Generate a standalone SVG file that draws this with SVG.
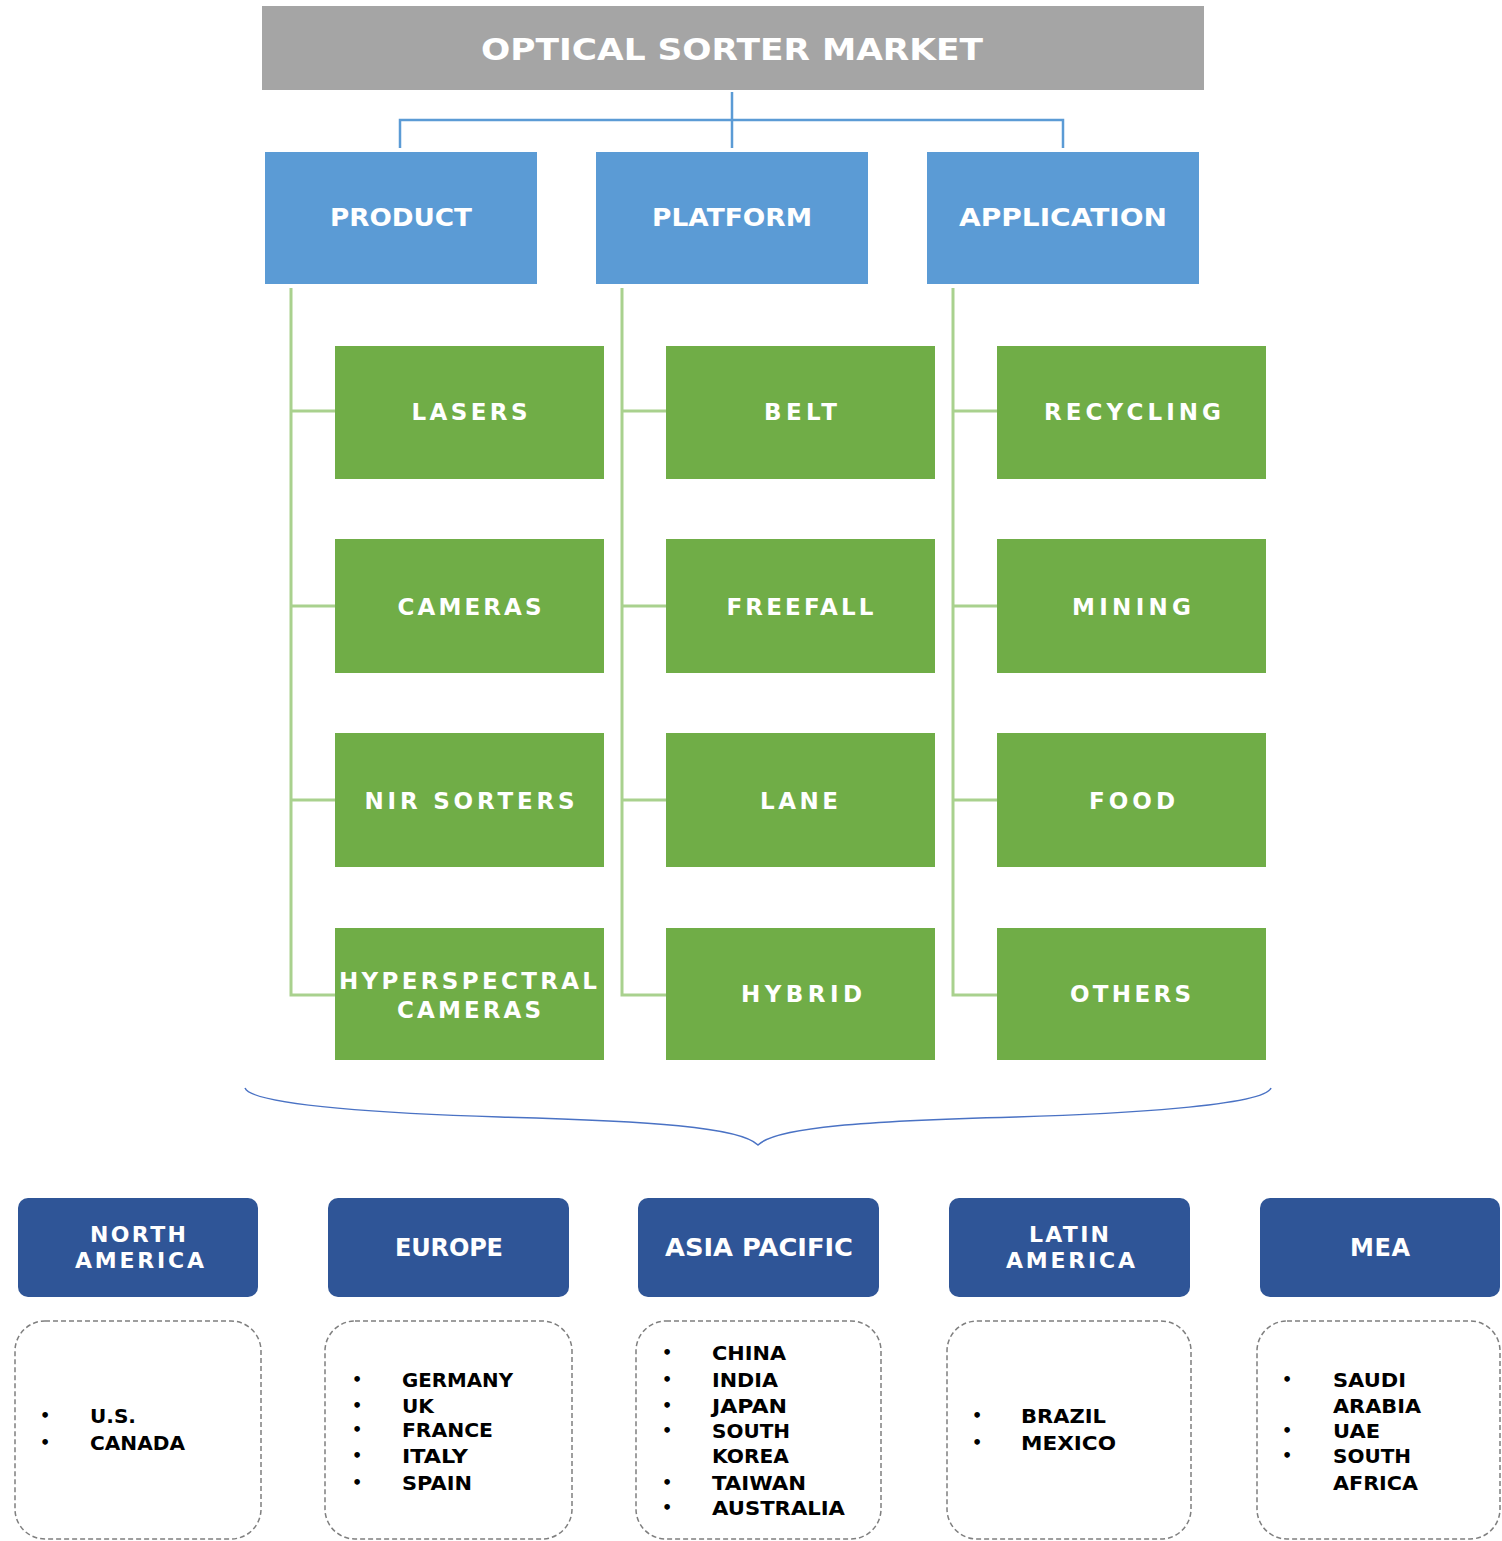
<svg xmlns="http://www.w3.org/2000/svg" width="1502" height="1541" viewBox="0 0 1502 1541">
<style>
  text { font-family: "DejaVu Sans", "Liberation Sans", sans-serif; font-weight: bold; }
  .title { fill: #ffffff; font-size: 31px; text-anchor: middle; }
  .seg { fill: #5b9bd5; }
  .segt { fill: #ffffff; font-size: 25px; text-anchor: middle; }
  .sub { fill: #70ad47; }
  .subt { fill: #ffffff; font-size: 23px; text-anchor: middle; }
  .reg { fill: #2f5597; }
  .regt { fill: #ffffff; font-size: 24px; text-anchor: middle; }
  .regt2 { fill: #ffffff; font-size: 22px; text-anchor: middle; }
  .list { fill: none; stroke: #7f7f7f; stroke-width: 1.5; stroke-dasharray: 5 3; }
  .lt { fill: #000000; font-size: 20px; }
  .bul { fill: #000000; font-size: 16px; text-anchor: middle; }
  .blue { fill: none; stroke: #5b9bd5; stroke-width: 2.5; }
  .green { fill: none; stroke: #a9d18e; stroke-width: 3; }
  .brace { fill: none; stroke: #4a72c4; stroke-width: 1.5; }
</style>

<g id="connectors">
  <path class="blue" d="M732,92 V148 M400,148 V120 H1063 V148"/>
  <path class="green" d="M291,288 V995 H335 M291,411 H335 M291,606 H335 M291,800 H335"/>
  <path class="green" d="M622,288 V995 H666 M622,411 H666 M622,606 H666 M622,800 H666"/>
  <path class="green" d="M953,288 V995 H997 M953,411 H997 M953,606 H997 M953,800 H997"/>
  <path class="brace" d="M245,1088 C252,1106 400,1114 500,1117 C650,1121 740,1127 758,1145 C776,1127 866,1121 1016,1117 C1116,1114 1264,1106 1271,1088"/>
</g>

<g id="title">
  <rect x="262" y="6" width="942" height="84" fill="#a5a5a5"/>
  <text class="title" x="732" y="60" textLength="502" lengthAdjust="spacingAndGlyphs">OPTICAL SORTER MARKET</text>
</g>

<g id="product">
  <rect class="seg" x="265" y="152" width="272" height="132"/>
  <text class="segt" x="401" y="226" textLength="142" lengthAdjust="spacingAndGlyphs">PRODUCT</text>
</g>
<g id="platform">
  <rect class="seg" x="596" y="152" width="272" height="132"/>
  <text class="segt" x="732" y="226" textLength="160" lengthAdjust="spacingAndGlyphs">PLATFORM</text>
</g>
<g id="application">
  <rect class="seg" x="927" y="152" width="272" height="132"/>
  <text class="segt" x="1063" y="226" textLength="208" lengthAdjust="spacingAndGlyphs">APPLICATION</text>
</g>

<g id="lasers">
  <rect class="sub" x="335" y="346" width="269" height="133"/>
  <text class="subt" x="469.5" y="419.5" textLength="116" lengthAdjust="spacing">LASERS</text>
</g>
<g id="cameras">
  <rect class="sub" x="335" y="539" width="269" height="134"/>
  <text class="subt" x="469.5" y="614.5" textLength="144" lengthAdjust="spacing">CAMERAS</text>
</g>
<g id="nir-sorters">
  <rect class="sub" x="335" y="733" width="269" height="134"/>
  <text class="subt" x="469.5" y="808.5" textLength="210" lengthAdjust="spacing">NIR SORTERS</text>
</g>
<g id="hyperspectral-cameras">
  <rect class="sub" x="335" y="928" width="269" height="132"/>
  <text class="subt" x="468" y="989" textLength="258" lengthAdjust="spacing">HYPERSPECTRAL</text>
  <text class="subt" x="469" y="1018" textLength="144" lengthAdjust="spacing">CAMERAS</text>
</g>

<g id="belt">
  <rect class="sub" x="666" y="346" width="269" height="133"/>
  <text class="subt" x="800.5" y="419.5" textLength="73" lengthAdjust="spacing">BELT</text>
</g>
<g id="freefall">
  <rect class="sub" x="666" y="539" width="269" height="134"/>
  <text class="subt" x="800" y="614.5" textLength="147" lengthAdjust="spacing">FREEFALL</text>
</g>
<g id="lane">
  <rect class="sub" x="666" y="733" width="269" height="134"/>
  <text class="subt" x="799" y="808.5" textLength="78" lengthAdjust="spacing">LANE</text>
</g>
<g id="hybrid">
  <rect class="sub" x="666" y="928" width="269" height="132"/>
  <text class="subt" x="801.5" y="1002" textLength="121" lengthAdjust="spacing">HYBRID</text>
</g>

<g id="recycling">
  <rect class="sub" x="997" y="346" width="269" height="133"/>
  <text class="subt" x="1132.5" y="419.5" textLength="177" lengthAdjust="spacing">RECYCLING</text>
</g>
<g id="mining">
  <rect class="sub" x="997" y="539" width="269" height="134"/>
  <text class="subt" x="1131.5" y="614.5" textLength="119" lengthAdjust="spacing">MINING</text>
</g>
<g id="food">
  <rect class="sub" x="997" y="733" width="269" height="134"/>
  <text class="subt" x="1132" y="808.5" textLength="86" lengthAdjust="spacing">FOOD</text>
</g>
<g id="others">
  <rect class="sub" x="997" y="928" width="269" height="132"/>
  <text class="subt" x="1130.5" y="1002" textLength="121" lengthAdjust="spacing">OTHERS</text>
</g>

<g id="north-america">
  <rect class="reg" x="18" y="1198" width="240" height="99" rx="10"/>
  <text class="regt2" x="138" y="1242" textLength="96" lengthAdjust="spacing">NORTH</text>
  <text class="regt2" x="139.5" y="1268" textLength="129" lengthAdjust="spacing">AMERICA</text>
  <rect class="list" x="15" y="1321" width="246" height="218" rx="30"/>
  <text class="bul" x="45" y="1421">•</text>
  <text class="bul" x="45" y="1448">•</text>
  <text class="lt" x="90" y="1423" textLength="46" lengthAdjust="spacingAndGlyphs">U.S.</text>
  <text class="lt" x="90" y="1450" textLength="95" lengthAdjust="spacingAndGlyphs">CANADA</text>
</g>

<g id="europe">
  <rect class="reg" x="328" y="1198" width="241" height="99" rx="10"/>
  <text class="regt" x="449" y="1256" textLength="108" lengthAdjust="spacing">EUROPE</text>
  <rect class="list" x="325" y="1321" width="247" height="218" rx="30"/>
  <text class="bul" x="357" y="1385">•</text>
  <text class="bul" x="357" y="1411">•</text>
  <text class="bul" x="357" y="1435">•</text>
  <text class="bul" x="357" y="1461">•</text>
  <text class="bul" x="357" y="1488">•</text>
  <text class="lt" x="402" y="1387" textLength="111" lengthAdjust="spacingAndGlyphs">GERMANY</text>
  <text class="lt" x="402" y="1413" textLength="32" lengthAdjust="spacingAndGlyphs">UK</text>
  <text class="lt" x="402" y="1437" textLength="91" lengthAdjust="spacingAndGlyphs">FRANCE</text>
  <text class="lt" x="402" y="1463" textLength="66" lengthAdjust="spacingAndGlyphs">ITALY</text>
  <text class="lt" x="402" y="1490" textLength="70" lengthAdjust="spacingAndGlyphs">SPAIN</text>
</g>

<g id="asia-pacific">
  <rect class="reg" x="638" y="1198" width="241" height="99" rx="10"/>
  <text class="regt" x="759" y="1256" textLength="188" lengthAdjust="spacingAndGlyphs">ASIA PACIFIC</text>
  <rect class="list" x="636" y="1321" width="245" height="218" rx="30"/>
  <text class="bul" x="667" y="1358">•</text>
  <text class="bul" x="667" y="1385">•</text>
  <text class="bul" x="667" y="1411">•</text>
  <text class="bul" x="667" y="1436">•</text>
  <text class="bul" x="667" y="1488">•</text>
  <text class="bul" x="667" y="1513">•</text>
  <text class="lt" x="712" y="1360" textLength="74" lengthAdjust="spacingAndGlyphs">CHINA</text>
  <text class="lt" x="712" y="1387" textLength="66" lengthAdjust="spacingAndGlyphs">INDIA</text>
  <text class="lt" x="712" y="1413" textLength="75" lengthAdjust="spacingAndGlyphs">JAPAN</text>
  <text class="lt" x="712" y="1438" textLength="78" lengthAdjust="spacingAndGlyphs">SOUTH</text>
  <text class="lt" x="712" y="1463" textLength="77" lengthAdjust="spacingAndGlyphs">KOREA</text>
  <text class="lt" x="712" y="1490" textLength="94" lengthAdjust="spacingAndGlyphs">TAIWAN</text>
  <text class="lt" x="712" y="1515" textLength="133" lengthAdjust="spacingAndGlyphs">AUSTRALIA</text>
</g>

<g id="latin-america">
  <rect class="reg" x="949" y="1198" width="241" height="99" rx="10"/>
  <text class="regt2" x="1069" y="1242" textLength="80" lengthAdjust="spacing">LATIN</text>
  <text class="regt2" x="1070.5" y="1268" textLength="129" lengthAdjust="spacing">AMERICA</text>
  <rect class="list" x="947" y="1321" width="244" height="218" rx="30"/>
  <text class="bul" x="977" y="1421">•</text>
  <text class="bul" x="977" y="1448">•</text>
  <text class="lt" x="1021" y="1423" textLength="85" lengthAdjust="spacingAndGlyphs">BRAZIL</text>
  <text class="lt" x="1021" y="1450" textLength="95" lengthAdjust="spacingAndGlyphs">MEXICO</text>
</g>

<g id="mea">
  <rect class="reg" x="1260" y="1198" width="240" height="99" rx="10"/>
  <text class="regt" x="1380" y="1256" textLength="60" lengthAdjust="spacing">MEA</text>
  <rect class="list" x="1257" y="1321" width="243" height="218" rx="30"/>
  <text class="bul" x="1287" y="1385">•</text>
  <text class="bul" x="1287" y="1436">•</text>
  <text class="bul" x="1287" y="1461">•</text>
  <text class="lt" x="1333" y="1387" textLength="73" lengthAdjust="spacingAndGlyphs">SAUDI</text>
  <text class="lt" x="1333" y="1413" textLength="88" lengthAdjust="spacingAndGlyphs">ARABIA</text>
  <text class="lt" x="1333" y="1438" textLength="47" lengthAdjust="spacingAndGlyphs">UAE</text>
  <text class="lt" x="1333" y="1463" textLength="78" lengthAdjust="spacingAndGlyphs">SOUTH</text>
  <text class="lt" x="1333" y="1490" textLength="85" lengthAdjust="spacingAndGlyphs">AFRICA</text>
</g>
</svg>
